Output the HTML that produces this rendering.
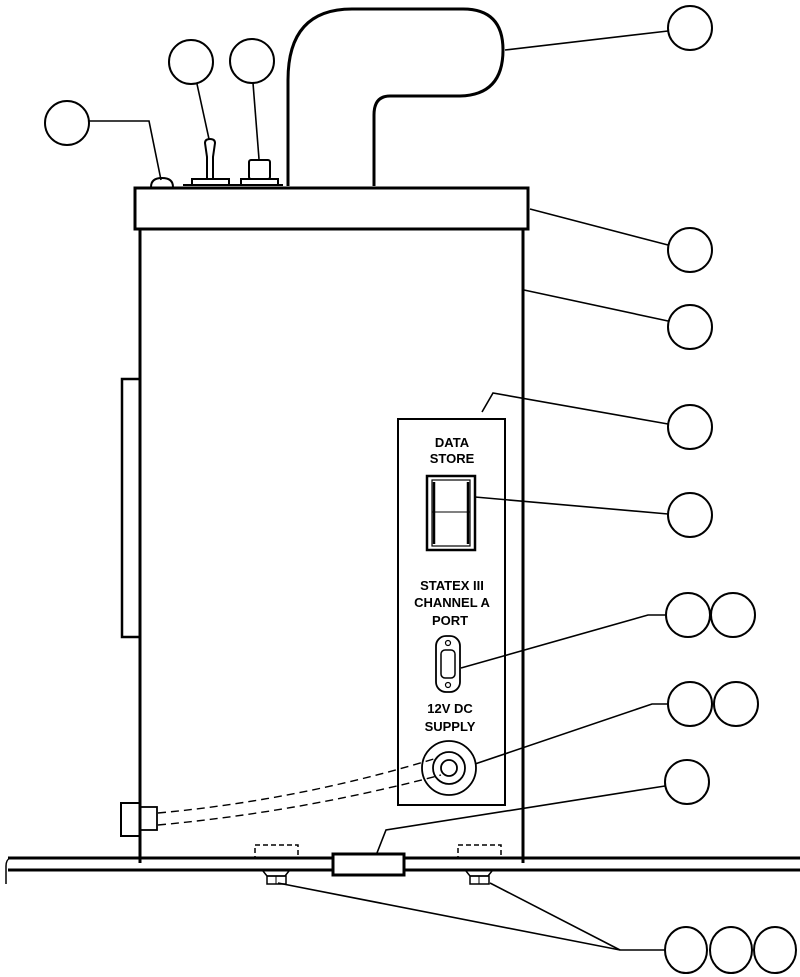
<!DOCTYPE html>
<html><head><style>
html,body{margin:0;padding:0;background:#fff;}
svg{display:block;}
text{font-family:"Liberation Sans",Arial,sans-serif;font-size:13px;font-weight:bold;fill:#000;stroke:none;text-anchor:middle;}
</style></head><body>
<svg width="800" height="977" viewBox="0 0 800 977" xmlns="http://www.w3.org/2000/svg" fill="none" stroke="#000" stroke-width="2">
<g stroke-width="2">
<circle cx="67" cy="123" r="22"/>
<circle cx="191" cy="62" r="22"/>
<circle cx="252" cy="61" r="22"/>
<circle cx="690" cy="28" r="22"/>
<circle cx="690" cy="250" r="22"/>
<circle cx="690" cy="327" r="22"/>
<circle cx="690" cy="427" r="22"/>
<circle cx="690" cy="515" r="22"/>
<circle cx="688" cy="615" r="22"/>
<circle cx="733" cy="615" r="22"/>
<circle cx="690" cy="704" r="22"/>
<circle cx="736" cy="704" r="22"/>
<circle cx="687" cy="782" r="22"/>
<ellipse cx="686" cy="950" rx="21" ry="23"/>
<ellipse cx="731" cy="950" rx="21" ry="23"/>
<ellipse cx="775" cy="950" rx="21" ry="23"/>
</g>
<g stroke-width="1.6">
<polyline points="89,121 149,121 161,180"/>
<line x1="197" y1="84" x2="209" y2="139"/>
<line x1="253" y1="83" x2="259" y2="159"/>
<line x1="668" y1="31" x2="505" y2="50"/>
<line x1="668" y1="245" x2="530" y2="209"/>
<line x1="668" y1="321" x2="524" y2="290"/>
<polyline points="668,424 493,393 482,412"/>
<line x1="668" y1="514" x2="475" y2="497"/>
<polyline points="666,615 648,615 461,668"/>
<polyline points="668,704 652,704 475,764"/>
<polyline points="665,786 386,830 375,858"/>
<polyline points="665,950 620,950 278,883"/>
<line x1="620" y1="950" x2="490" y2="883"/>
</g>
<path d="M288,186 V80 Q288,9 352,9 H463 Q503,9 503,50 Q503,95 460,96 H390 Q374,96 374,115 V186" stroke-width="3"/>
<rect x="135" y="188" width="393" height="41" stroke-width="3"/>
<line x1="140" y1="229" x2="140" y2="863" stroke-width="3"/>
<line x1="523" y1="229" x2="523" y2="863" stroke-width="3"/>
<path d="M151,187 Q151,178 162,178 Q173,178 173,187"/>
<line x1="183" y1="185" x2="283" y2="185"/>
<rect x="192" y="179" width="37" height="6"/>
<path d="M207,179 V157 L205,143 Q205,139 210,139 Q215,139 215,143 L213,157 V179"/>
<rect x="241" y="179" width="37" height="6"/>
<rect x="249" y="160" width="21" height="19" rx="2"/>
<rect x="122" y="379" width="18" height="258" stroke-width="2.5"/>
<rect x="398" y="419" width="107" height="386" stroke-width="2"/>
<text x="452" y="447">DATA</text>
<text x="452" y="463">STORE</text>
<rect x="427" y="476" width="48" height="74" stroke-width="2.5"/>
<rect x="432" y="480" width="38" height="66" stroke-width="1.2"/>
<line x1="432" y1="512" x2="470" y2="512" stroke-width="1"/>
<line x1="434" y1="482" x2="434" y2="544" stroke-width="2.5"/>
<line x1="468" y1="482" x2="468" y2="544" stroke-width="2.5"/>
<text x="452" y="590">STATEX III</text>
<text x="452" y="607">CHANNEL A</text>
<text x="450" y="625">PORT</text>
<rect x="436" y="636" width="24" height="56" rx="10" stroke-width="1.8"/>
<rect x="441" y="650" width="14" height="28" rx="4" stroke-width="1.5"/>
<circle cx="448" cy="643" r="2.5" stroke-width="1.2"/>
<circle cx="448" cy="685" r="2.5" stroke-width="1.2"/>
<text x="450" y="713">12V DC</text>
<text x="450" y="731">SUPPLY</text>
<circle cx="449" cy="768" r="27" stroke-width="1.8"/>
<circle cx="449" cy="768" r="16" stroke-width="1.8"/>
<circle cx="449" cy="768" r="8" stroke-width="1.8"/>
<rect x="121" y="803" width="19" height="33" stroke-width="2"/>
<rect x="140" y="807" width="17" height="23" stroke-width="1.8"/>
<path d="M158,813 Q300,800 437,758" stroke-dasharray="8,5" stroke-width="1.4"/>
<path d="M158,825 Q300,812 441,775" stroke-dasharray="8,5" stroke-width="1.4"/>
<line x1="8" y1="858" x2="800" y2="858" stroke-width="3"/>
<line x1="8" y1="870" x2="800" y2="870" stroke-width="3"/>
<path d="M10,858 Q6,860 6,866 V884" stroke-width="1.5"/>
<rect x="333" y="854" width="71" height="21" fill="#fff" stroke-width="3"/>
<rect x="255" y="845" width="43" height="13" stroke-dasharray="5,3" stroke-width="1.5"/>
<rect x="458" y="845" width="43" height="13" stroke-dasharray="5,3" stroke-width="1.5"/>
<path d="M263,871 L267,876 H285 L289,871" stroke-width="1.5"/>
<rect x="267" y="876" width="19" height="8" stroke-width="1.5"/>
<line x1="276" y1="876" x2="276" y2="884" stroke-width="1"/>
<path d="M466,871 L470,876 H488 L492,871" stroke-width="1.5"/>
<rect x="470" y="876" width="19" height="8" stroke-width="1.5"/>
<line x1="479" y1="876" x2="479" y2="884" stroke-width="1"/>
</svg>
</body></html>
